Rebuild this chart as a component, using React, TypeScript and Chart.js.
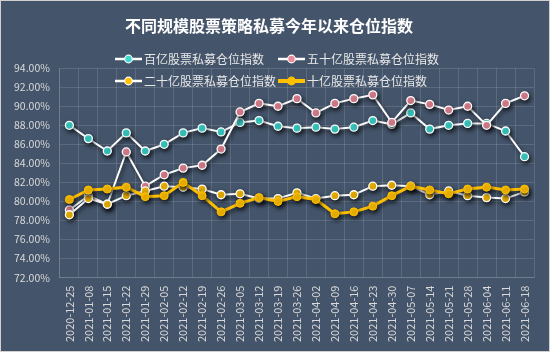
import React, { useEffect, useRef } from "react";
import { Chart, registerables } from "chart.js";

Chart.register(...registerables);

const TITLE = "不同规模股票策略私募今年以来仓位指数";

const categories = [
  "2020-12-25", "2021-01-08", "2021-01-15", "2021-01-22", "2021-01-29",
  "2021-02-05", "2021-02-12", "2021-02-19", "2021-02-26", "2021-03-05",
  "2021-03-12", "2021-03-19", "2021-03-26", "2021-04-02", "2021-04-09",
  "2021-04-16", "2021-04-23", "2021-04-30", "2021-05-07", "2021-05-14",
  "2021-05-21", "2021-05-28", "2021-06-04", "2021-06-11", "2021-06-18",
];

const seriesNames = ["百亿股票私募仓位指数", "五十亿股票私募仓位指数", "二十亿股票私募仓位指数", "十亿股票私募仓位指数"];

const bai = [88.0, 86.6, 85.3, 87.2, 85.3, 86.0, 87.2, 87.7, 87.3, 88.3, 88.5, 87.9, 87.7, 87.8, 87.6, 87.8, 88.5, 88.1, 89.3, 87.6, 88.0, 88.2, 88.2, 87.4, 84.7];
const wushi = [79.1, 80.6, 79.7, 85.2, 81.6, 82.8, 83.5, 83.8, 85.5, 89.4, 90.3, 90.0, 90.8, 89.3, 90.3, 90.8, 91.2, 88.3, 90.6, 90.2, 89.6, 90.0, 88.0, 90.3, 91.1];
const ershi = [78.6, 80.3, 79.7, 80.6, 81.1, 81.6, 81.5, 81.3, 80.7, 80.8, 80.3, 80.3, 80.9, 80.3, 80.6, 80.7, 81.6, 81.7, 81.6, 80.7, 81.1, 80.6, 80.4, 80.3, 81.0];
const shi = [80.2, 81.2, 81.3, 81.5, 80.5, 80.6, 82.0, 80.6, 78.9, 79.8, 80.4, 80.0, 80.5, 80.2, 78.7, 78.9, 79.5, 80.6, 81.6, 81.2, 80.8, 81.3, 81.5, 81.2, 81.3];

const yMin = 72;
const yMax = 94;
const yStep = 2;

const BG = "#44546a";
const GRID = "rgba(255,255,255,0.13)";
const CYAN = "#3fd9d2";
const PINK = "#ea8a9b";
const YELLOW = "#ffc000";
const FONT = "'Noto Sans CJK SC', 'Noto Sans', sans-serif";

const legendItems = [
  { name: seriesNames[0], line: "#ffffff", dot: CYAN, lw: 2.5, row: 0, col: 0 },
  { name: seriesNames[1], line: "#ffffff", dot: PINK, lw: 2.5, row: 0, col: 1 },
  { name: seriesNames[2], line: "#ffffff", dot: YELLOW, lw: 2.5, row: 1, col: 0 },
  { name: seriesNames[3], line: YELLOW, dot: YELLOW, lw: 4, row: 1, col: 1 },
];

const bgPlugin = {
  id: "bgPlugin",
  beforeDraw(chart: any) {
    const { ctx, width, height } = chart;
    ctx.save();
    ctx.fillStyle = BG;
    ctx.fillRect(0, 0, width, height);
    ctx.strokeStyle = "#d0d0d0";
    ctx.lineWidth = 1;
    ctx.strokeRect(0.5, 0.5, width - 1, height - 1);
    ctx.restore();
  },
};

const shadowPlugin = {
  id: "shadowPlugin",
  beforeDatasetsDraw(chart: any) {
    const ctx = chart.ctx;
    ctx.save();
    ctx.shadowColor = "rgba(0,0,0,0.6)";
    ctx.shadowBlur = 4;
    ctx.shadowOffsetX = 1.5;
    ctx.shadowOffsetY = 2.5;
  },
  afterDatasetsDraw(chart: any) {
    chart.ctx.restore();
  },
};

const legendPlugin = {
  id: "customLegend",
  afterDraw(chart: any) {
    const ctx = chart.ctx;
    ctx.save();
    const rowsY = [59, 81];
    const colsX = [115, 278];
    ctx.font = `12px ${FONT}`;
    ctx.textBaseline = "middle";
    ctx.textAlign = "left";
    legendItems.forEach((it) => {
      const x = colsX[it.col];
      const y = rowsY[it.row];
      ctx.strokeStyle = it.line;
      ctx.lineWidth = it.lw;
      ctx.beginPath();
      ctx.moveTo(x, y);
      ctx.lineTo(x + 27, y);
      ctx.stroke();
      ctx.beginPath();
      ctx.arc(x + 13.5, y, 3.8, 0, Math.PI * 2);
      ctx.fillStyle = it.dot;
      ctx.fill();
      ctx.lineWidth = 1.2;
      ctx.strokeStyle = it.line === YELLOW ? YELLOW : "#ffffff";
      ctx.stroke();
      ctx.fillStyle = "#e8e8e8";
      ctx.fillText(it.name, x + 29, y + 0.5);
    });
    ctx.restore();
  },
};

export default function App() {
  const ref = useRef<HTMLCanvasElement | null>(null);

  useEffect(() => {
    document.body.style.margin = "0";
    const canvas = ref.current;
    if (!canvas) return;
    const whiteLine = (label: string, data: number[], dot: string, order: number) => ({
      label,
      data,
      borderColor: "#ffffff",
      borderWidth: 2,
      pointBackgroundColor: dot,
      pointBorderColor: "#ffffff",
      pointBorderWidth: 1.3,
      pointRadius: 4,
      tension: 0,
      order,
    });
    const chart = new Chart(canvas, {
      type: "line",
      data: {
        labels: categories,
        datasets: [
          whiteLine(seriesNames[0], bai, CYAN, 4),
          whiteLine(seriesNames[1], wushi, PINK, 3),
          whiteLine(seriesNames[2], ershi, YELLOW, 2),
          {
            label: seriesNames[3],
            data: shi,
            borderColor: YELLOW,
            borderWidth: 3,
            pointBackgroundColor: YELLOW,
            pointBorderColor: YELLOW,
            pointBorderWidth: 1,
            pointRadius: 4,
            tension: 0,
            order: 1,
          },
        ],
      },
      options: {
        animation: false,
        responsive: false,
        maintainAspectRatio: false,
        layout: { padding: { left: 4, right: 16, top: 0, bottom: 2 } },
        plugins: {
          legend: { display: false },
          tooltip: { enabled: false },
          title: {
            display: true,
            text: TITLE,
            color: "#ffffff",
            font: { family: FONT, size: 16, weight: "bold" },
            padding: { top: 16, bottom: 33 },
          },
        },
        scales: {
          x: {
            offset: true,
            grid: { color: GRID, offset: true, drawTicks: false },
            border: { color: GRID },
            ticks: {
              color: "#d9d9d9",
              font: { family: FONT, size: 11 },
              minRotation: 90,
              maxRotation: 90,
              autoSkip: false,
              padding: 8,
            },
          },
          y: {
            min: yMin,
            max: yMax,
            grid: { color: GRID, drawTicks: false },
            border: { color: GRID },
            ticks: {
              stepSize: yStep,
              color: "#d9d9d9",
              font: { family: FONT, size: 10.5 },
              padding: 10,
              callback: (v: any) => Number(v).toFixed(2) + "%",
            },
          },
        },
      },
      plugins: [bgPlugin, shadowPlugin, legendPlugin],
    });
    return () => chart.destroy();
  }, []);

  return (
    <div style={{ width: 550, height: 352 }}>
      <canvas ref={ref} width={550} height={352} style={{ display: "block" }} />
    </div>
  );
}
